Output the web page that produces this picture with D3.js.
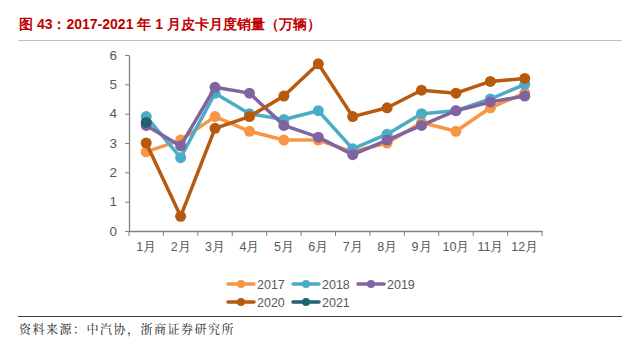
<!DOCTYPE html>
<html>
<head>
<meta charset="utf-8">
<script src="https://cdn.jsdelivr.net/npm/d3@7"></script>
<style>
  body { margin: 0; background: #fff; }
  svg { display: block; font-family: "Liberation Sans", Arial, sans-serif; }
</style>
</head>
<body>
<svg id="chart"></svg>
<script>
/* DATA */
const months = ["1月","2月","3月","4月","5月","6月","7月","8月","9月","10月","11月","12月"];
const s2017 = [2.7, 3.1, 3.9, 3.4, 3.1, 3.1, 2.7, 3.0, 3.7, 3.4, 4.2, 4.7];
const s2018 = [3.9, 2.5, 4.7, 4.0, 3.8, 4.1, 2.8, 3.3, 4.0, 4.1, 4.5, 5.0];
const s2019 = [3.6, 2.9, 4.9, 4.7, 3.6, 3.2, 2.6, 3.1, 3.6, 4.1, 4.4, 4.6];
const s2020 = [3.0, 0.5, 3.5, 3.9, 4.6, 5.7, 3.9, 4.2, 4.8, 4.7, 5.1, 5.2];
const s2021 = [3.7];
const yTicks = [0, 1, 2, 3, 4, 5, 6];

const series = [
  { name: "2017", values: s2017, color: "#f79646" },
  { name: "2018", values: s2018, color: "#4bacc6" },
  { name: "2019", values: s2019, color: "#8064a2" },
  { name: "2020", values: s2020, color: "#b85a0d" },
  { name: "2021", values: s2021, color: "#1f6373" }
];

/* CONSTANTS */
const width = 639, height = 353;
const margin = { left: 129, right: 97, top: 55, bottom: 122 };

const svg = d3.select("#chart").attr("width", width).attr("height", height);

// title
svg.append("text")
  .attr("x", 19).attr("y", 29)
  .attr("fill", "#c00000")
  .attr("font-size", 14).attr("font-weight", "bold")
  .text("图 43：2017-2021 年 1 月皮卡月度销量（万辆）");

svg.append("line")
  .attr("x1", 18).attr("x2", 622).attr("y1", 40.5).attr("y2", 40.5)
  .attr("stroke", "#bfbfbf").attr("stroke-width", 1);

/* SCALES */
const xScale = d3.scaleBand()
  .domain(months)
  .range([margin.left, width - margin.right]);

const yScale = d3.scaleLinear()
  .domain([0, 6])
  .range([height - margin.bottom, margin.top]);

/* AXES */
const xAxis = d3.axisBottom(xScale).tickSize(5).tickSizeOuter(0).tickPadding(6);
const xg = svg.append("g")
  .attr("transform", `translate(0,${height - margin.bottom})`)
  .call(xAxis);
// ticks at band edges
xg.selectAll(".tick line").attr("transform", `translate(${-xScale.bandwidth() / 2},0)`);
xg.append("line")
  .attr("x1", width - margin.right).attr("x2", width - margin.right)
  .attr("y1", 0).attr("y2", 5).attr("stroke", "#808080");

const yAxis = d3.axisLeft(yScale).tickValues(yTicks).tickFormat(d3.format("d"))
  .tickSize(4).tickSizeOuter(0).tickPadding(8);
const yg = svg.append("g")
  .attr("transform", `translate(${margin.left},0)`)
  .call(yAxis);

[xg, yg].forEach(g => {
  g.select(".domain").attr("stroke", "#808080").attr("stroke-width", 1.3);
  g.selectAll(".tick line").attr("stroke", "#808080");
  g.selectAll(".tick text").attr("fill", "#595959").attr("font-size", 12.5)
    .attr("font-family", "Liberation Sans, Arial, sans-serif");
});
yg.selectAll(".tick text").attr("font-size", 13.5);

/* LINES */
const line = d3.line()
  .x((d, i) => xScale(months[i]) + xScale.bandwidth() / 2)
  .y(d => yScale(d));

series.forEach(s => {
  const g = svg.append("g");
  g.append("path")
    .datum(s.values)
    .attr("d", line)
    .attr("fill", "none")
    .attr("stroke", s.color)
    .attr("stroke-width", 3.5)
    .attr("stroke-linejoin", "round");
  g.selectAll("circle")
    .data(s.values)
    .join("circle")
    .attr("cx", (d, i) => xScale(months[i]) + xScale.bandwidth() / 2)
    .attr("cy", d => yScale(d))
    .attr("r", 5.5)
    .attr("fill", s.color);
});

/* LEGEND */
const legend = svg.append("g");
series.forEach((s, i) => {
  const col = i % 3, row = Math.floor(i / 3);
  const x = 228 + col * 65, y = 284 + row * 18;
  const item = legend.append("g").attr("transform", `translate(${x},${y})`);
  item.append("line").attr("x1", 0).attr("x2", 26).attr("y1", 0).attr("y2", 0)
    .attr("stroke", s.color).attr("stroke-width", 3.5).attr("stroke-linecap", "round");
  item.append("circle").attr("cx", 13).attr("cy", 0).attr("r", 4).attr("fill", s.color);
  item.append("text").attr("x", 29).attr("y", 4.5)
    .attr("fill", "#595959").attr("font-size", 12.5)
    .text(s.name);
});

/* FOOTER */
svg.append("line")
  .attr("x1", 18).attr("x2", 622).attr("y1", 316.5).attr("y2", 316.5)
  .attr("stroke", "#404040").attr("stroke-width", 1);

svg.append("text")
  .attr("x", 19).attr("y", 334)
  .attr("fill", "#222")
  .attr("font-size", 12)
  .attr("letter-spacing", 1.5)
  .attr("font-family", "'Noto Serif CJK SC', 'Noto Sans CJK SC', serif")
  .text("资料来源：中汽协，浙商证券研究所");
</script>
</body>
</html>
